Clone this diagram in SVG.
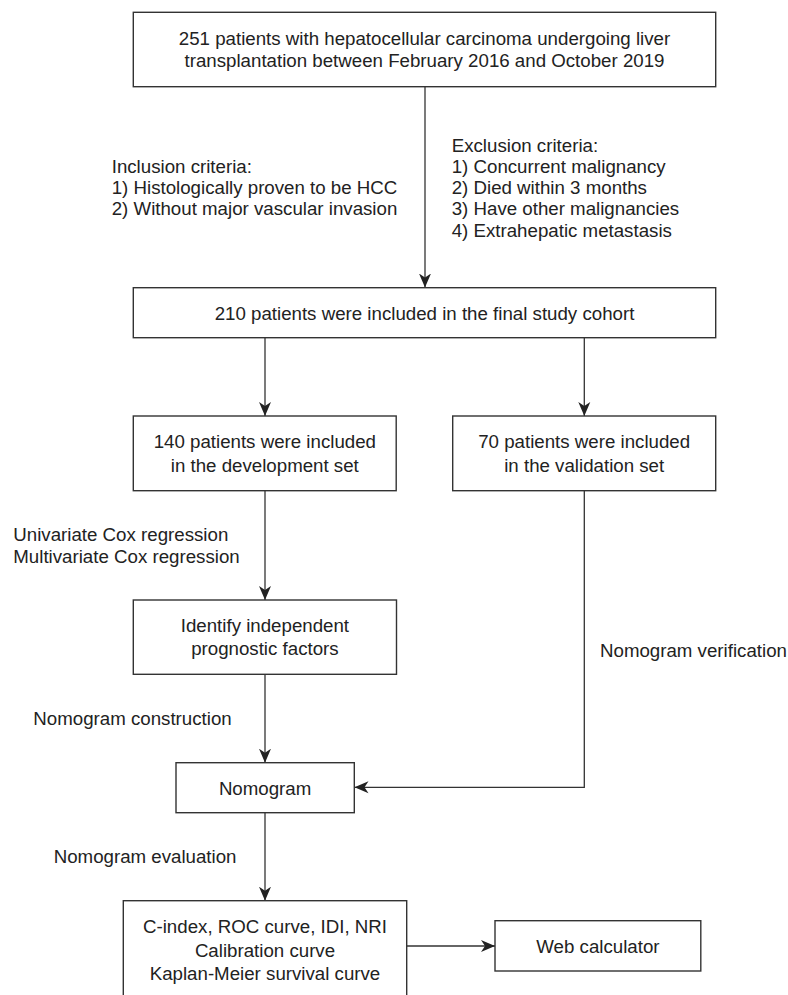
<svg xmlns="http://www.w3.org/2000/svg" width="788" height="995" viewBox="0 0 788 995">
<style>
  .box { fill: #ffffff; stroke: #333333; stroke-width: 1.4; }
  .t { font-family: "Liberation Sans", Arial, sans-serif; font-size: 18.7px; fill: #222222; }
  .c { text-anchor: middle; }
  .edge { fill: none; stroke: #333333; stroke-width: 1.3; }
</style>
<defs>
  <marker id="ah" viewBox="0 0 16 14" markerWidth="16" markerHeight="14" refX="14" refY="7" orient="auto" markerUnits="userSpaceOnUse">
    <path d="M0,1 L14,7 L0,13 L4,7 Z" fill="#222222"/>
  </marker>
</defs>
<rect width="788" height="995" fill="#ffffff"/>

<g id="edges">
  <path class="edge" d="M425,86.7 V287.5" marker-end="url(#ah)"/>
  <path class="edge" d="M265,337.7 V416" marker-end="url(#ah)"/>
  <path class="edge" d="M584.3,337.7 V416" marker-end="url(#ah)"/>
  <path class="edge" d="M265,490.7 V600" marker-end="url(#ah)"/>
  <path class="edge" d="M265,674.3 V762.7" marker-end="url(#ah)"/>
  <path class="edge" d="M584.3,490.7 V787.3 H354.5" marker-end="url(#ah)"/>
  <path class="edge" d="M265,812.7 V900.7" marker-end="url(#ah)"/>
  <path class="edge" d="M406.7,946 H495" marker-end="url(#ah)"/>
</g>

<g id="labels">
  <g id="inclusion">
    <text class="t" x="111.7" y="173.2">Inclusion criteria:</text>
    <text class="t" x="111.7" y="194.3">1) Histologically proven to be HCC</text>
    <text class="t" x="111.7" y="215.2">2) Without major vascular invasion</text>
  </g>
  <g id="exclusion">
    <text class="t" x="451.7" y="151.5">Exclusion criteria:</text>
    <text class="t" x="451.7" y="172.8">1) Concurrent malignancy</text>
    <text class="t" x="451.7" y="194">2) Died within 3 months</text>
    <text class="t" x="451.7" y="215.3">3) Have other malignancies</text>
    <text class="t" x="451.7" y="236.5">4) Extrahepatic metastasis</text>
  </g>
  <g id="cox">
    <text class="t" x="13.3" y="540.7">Univariate Cox regression</text>
    <text class="t" x="13.3" y="562.7">Multivariate Cox regression</text>
  </g>
  <text id="construction" class="t" x="33.3" y="725">Nomogram construction</text>
  <text id="verification" class="t" x="600" y="657.3">Nomogram verification</text>
  <text id="evaluation" class="t" x="53.7" y="863.3">Nomogram evaluation</text>
</g>

<g id="n_start">
  <rect class="box" x="133.3" y="12.3" width="582.4" height="74.4"/>
  <text class="t c" x="424.5" y="44.5">251 patients with hepatocellular carcinoma undergoing liver</text>
  <text class="t c" x="424.5" y="67">transplantation between February 2016 and October 2019</text>
</g>

<g id="n_cohort">
  <rect class="box" x="133.3" y="287.7" width="582.4" height="50"/>
  <text class="t c" x="424.5" y="319.5">210 patients were included in the final study cohort</text>
</g>

<g id="n_dev">
  <rect class="box" x="133.3" y="416" width="262.9" height="74.7"/>
  <text class="t c" x="264.8" y="448">140 patients were included</text>
  <text class="t c" x="264.8" y="471.5">in the development set</text>
</g>

<g id="n_val">
  <rect class="box" x="452.7" y="416" width="263" height="74.7"/>
  <text class="t c" x="584.2" y="448">70 patients were included</text>
  <text class="t c" x="584.2" y="471.5">in the validation set</text>
</g>

<g id="n_factors">
  <rect class="box" x="133.3" y="600" width="263.2" height="74.3"/>
  <text class="t c" x="264.9" y="632">Identify independent</text>
  <text class="t c" x="264.9" y="655">prognostic factors</text>
</g>

<g id="n_nomogram">
  <rect class="box" x="176" y="762.7" width="178.3" height="50"/>
  <text class="t c" x="265.1" y="794.5">Nomogram</text>
</g>

<g id="n_eval">
  <rect class="box" x="123.3" y="900.7" width="283.4" height="110"/>
  <text class="t c" x="265" y="933.3">C-index, ROC curve, IDI, NRI</text>
  <text class="t c" x="265" y="956.7">Calibration curve</text>
  <text class="t c" x="265" y="980">Kaplan-Meier survival curve</text>
</g>

<g id="n_web">
  <rect class="box" x="495" y="920.7" width="205.8" height="50.3"/>
  <text class="t c" x="597.9" y="952.6">Web calculator</text>
</g>
</svg>
